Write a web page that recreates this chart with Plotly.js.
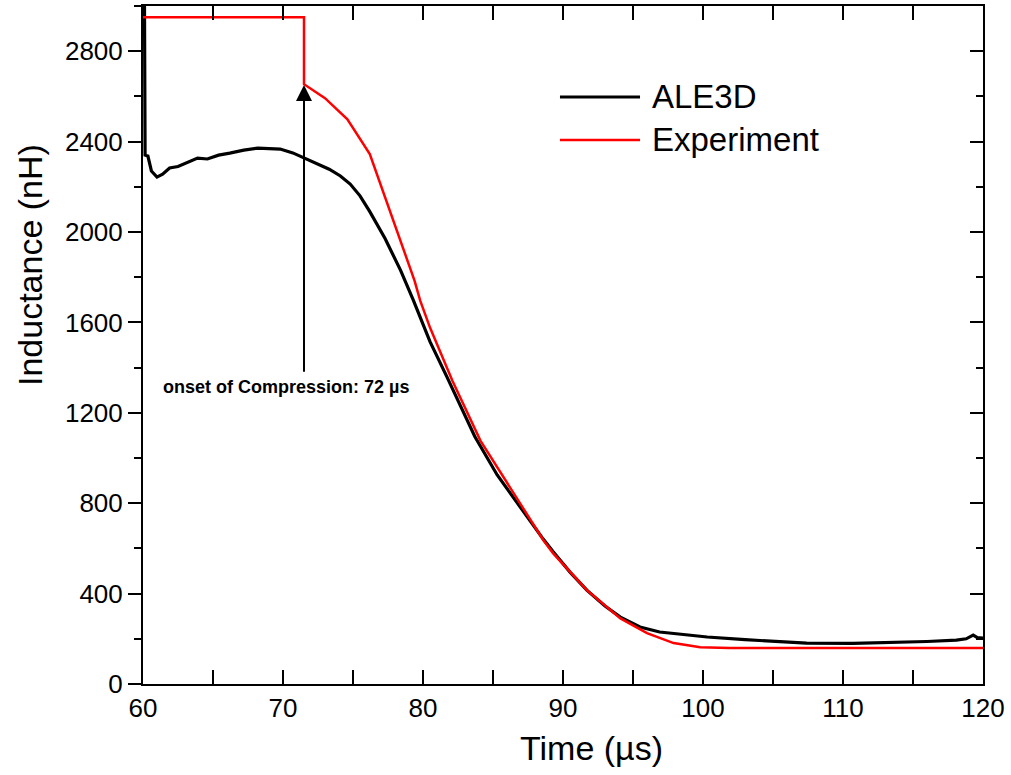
<!DOCTYPE html>
<html>
<head>
<meta charset="utf-8">
<script src="https://cdn.plot.ly/plotly-3.0.1.min.js"></script>
<style>html,body{margin:0;padding:0;background:#fff;}#chart{width:1011px;height:775px;}</style>
</head>
<body>
<div id="chart"></div>
<script>
// ALE3D simulation
const aleTime = [60.0, 60.1, 60.15, 60.35, 60.6, 61.0, 61.4, 61.9, 62.5, 63.2, 63.9, 64.6, 65.4, 66.2, 67.2, 68.2, 69.0, 69.8, 70.7, 71.5, 72.5, 73.3, 74.1, 74.8, 75.5, 76.2, 77.3, 78.4, 79.3, 80.5, 81.7, 82.8, 83.7, 85.3, 86.9, 88.6, 89.3, 90.5, 91.7, 93.0, 94.1, 95.5, 96.9, 98.5, 100.3, 103.0, 105.0, 107.4, 110.7, 113.0, 116.0, 118.1, 118.8, 119.3, 119.6, 120.0];
const aleInd  = [3100, 3100, 2340, 2336, 2270, 2243, 2256, 2283, 2290, 2310, 2327, 2323, 2340, 2349, 2362, 2371, 2370, 2367, 2350, 2328, 2302, 2278, 2248, 2212, 2160, 2090, 1970, 1830, 1700, 1515, 1360, 1215, 1095, 925, 785, 640, 585, 495, 415, 345, 296, 252, 230, 218, 208, 196, 188, 181, 180, 183, 188, 194, 200, 216, 205, 203];
// Experiment
const expTime = [60.0, 71.5, 71.5, 73.0, 74.6, 76.2, 79.4, 79.8, 80.5, 82.1, 84.1, 86.9, 88.6, 89.3, 91.7, 94.1, 96.0, 97.9, 99.8, 101.9, 120.0];
const expInd  = [2950, 2950, 2654, 2592, 2499, 2345, 1784, 1696, 1577, 1342, 1077, 805, 636, 578, 415, 290, 225, 181, 163, 159, 159];

const seriesNames = ['ALE3D', 'Experiment'];
const xTitle = 'Time (\u00b5s)';
const yTitle = 'Inductance (nH)';
const annotationText = 'onset of Compression: 72 \u00b5s';
const onsetTime = 71.5;
const onsetTip = 2650;
const onsetTail = 1375;

const FONT = 'Arial, "Liberation Sans", sans-serif';

const traces = [
  {x: aleTime, y: aleInd, type: 'scatter', mode: 'lines', name: seriesNames[0],
   line: {color: '#000000', width: 3.2}, showlegend: false},
  {x: expTime, y: expInd, type: 'scatter', mode: 'lines', name: seriesNames[1],
   line: {color: '#ff0000', width: 2.5}, showlegend: false},
  // empty trace so the right-hand mirrored axis is drawn
  {x: [60], y: [null], yaxis: 'y2', type: 'scatter', mode: 'lines', showlegend: false, hoverinfo: 'skip'}
];

const layout = {
  width: 1011, height: 775,
  margin: {l: 143, r: 28, t: 6, b: 91},
  paper_bgcolor: '#ffffff', plot_bgcolor: '#ffffff',
  font: {family: FONT, color: '#000000'},
  xaxis: {
    range: [60, 120], dtick: 10, tick0: 60,
    ticks: 'inside', ticklen: 14, tickwidth: 2, tickcolor: '#000',
    minor: {dtick: 5, ticks: 'inside', ticklen: 8, tickwidth: 2, tickcolor: '#000'},
    showline: true, linecolor: '#000', linewidth: 2, mirror: 'allticks',
    showgrid: false, zeroline: false,
    tickfont: {size: 26, family: FONT}
  },
  yaxis: {
    range: [0, 3000], dtick: 400, tick0: 0,
    ticks: 'outside', ticklen: 13, tickwidth: 2, tickcolor: '#000',
    minor: {dtick: 200, ticks: 'outside', ticklen: 7, tickwidth: 2, tickcolor: '#000'},
    showline: true, linecolor: '#000', linewidth: 2, mirror: false,
    showgrid: false, zeroline: false,
    tickfont: {size: 26, family: FONT}
  },
  yaxis2: {
    overlaying: 'y', side: 'right', matches: 'y', range: [0, 3000],
    dtick: 400, tick0: 0,
    ticks: 'inside', ticklen: 13, tickwidth: 2, tickcolor: '#000',
    minor: {dtick: 200, ticks: 'inside', ticklen: 7, tickwidth: 2, tickcolor: '#000'},
    showline: true, linecolor: '#000', linewidth: 2,
    showticklabels: false, showgrid: false, zeroline: false
  },
  annotations: [
    {x: onsetTime, y: onsetTip, ax: onsetTime, ay: onsetTail, xref: 'x', yref: 'y', axref: 'x', ayref: 'y',
     text: '', showarrow: true, arrowhead: 2, arrowsize: 1.6, arrowwidth: 2, arrowcolor: '#000'},
    {x: 70.2, y: 1315, xref: 'x', yref: 'y', text: '<b>' + annotationText + '</b>', showarrow: false,
     font: {size: 18, family: FONT, color: '#000'}, xanchor: 'center', yanchor: 'middle'},
    {x: 0.603, y: 0.8658, xref: 'paper', yref: 'paper', text: seriesNames[0], showarrow: false,
     xanchor: 'left', yanchor: 'middle', font: {size: 33, family: FONT, color: '#000'}},
    {x: 0.603, y: 0.8024, xref: 'paper', yref: 'paper', text: seriesNames[1], showarrow: false,
     xanchor: 'left', yanchor: 'middle', font: {size: 33, family: FONT, color: '#000'}},
    {x: 0.534, y: -0.0944, xref: 'paper', yref: 'paper', text: xTitle, showarrow: false,
     xanchor: 'center', yanchor: 'middle', font: {size: 34, family: FONT, color: '#000'}},
    {x: -0.1345, y: 0.6180, xref: 'paper', yref: 'paper', text: yTitle, showarrow: false, textangle: -90,
     xanchor: 'center', yanchor: 'middle', font: {size: 34, family: FONT, color: '#000'}}
  ],
  shapes: [
    {type: 'line', xref: 'paper', yref: 'paper', x0: 0.4964, x1: 0.5917, y0: 0.8658, y1: 0.8658,
     line: {color: '#000', width: 3}},
    {type: 'line', xref: 'paper', yref: 'paper', x0: 0.4964, x1: 0.5917, y0: 0.8024, y1: 0.8024,
     line: {color: '#ff0000', width: 2.5}}
  ]
};

Plotly.newPlot('chart', traces, layout, {displayModeBar: false, staticPlot: true});
</script>
</body>
</html>
